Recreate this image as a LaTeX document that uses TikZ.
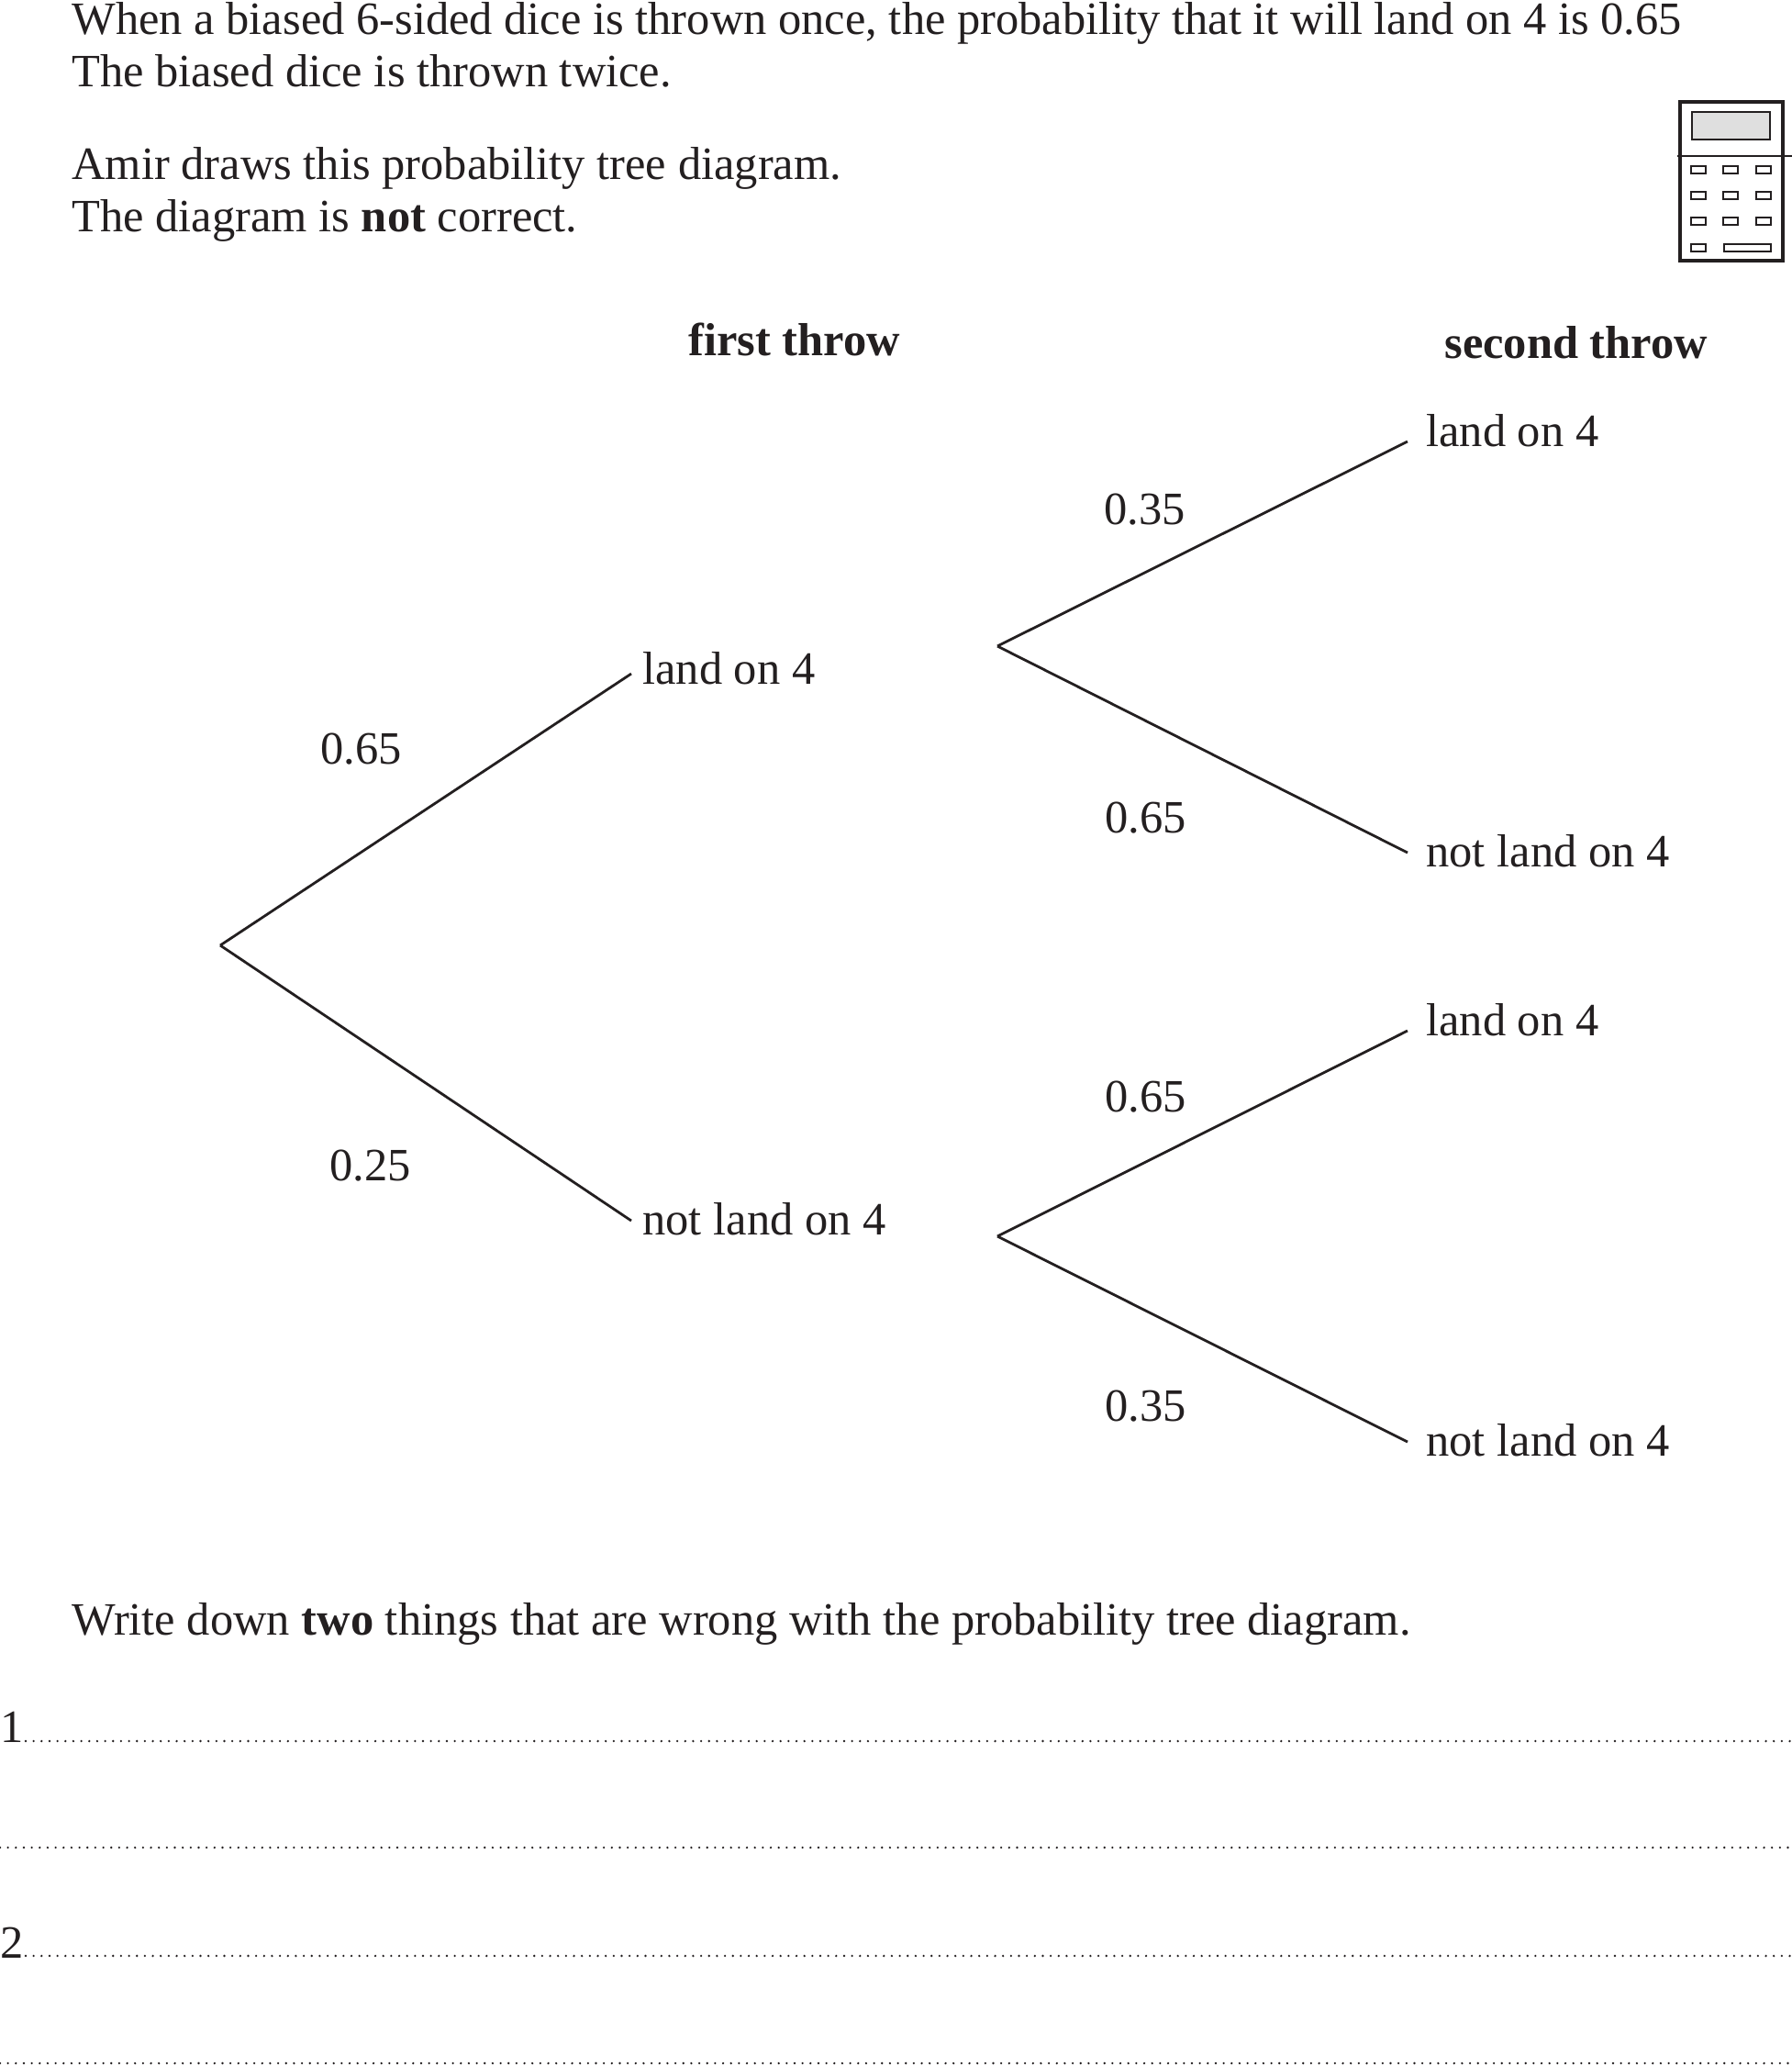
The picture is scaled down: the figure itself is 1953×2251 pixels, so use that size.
\documentclass[tikz,border=0pt]{standalone}
\usepackage{fontspec}
\setmainfont{Liberation Serif}
\definecolor{inkblack}{HTML}{231F20}
\tikzset{
    textline/.style={anchor=base west, inner sep=0pt, text=inkblack, font=\fontsize{25.25}{30}\selectfont},
    branch/.style={draw=inkblack, line width=1.4pt},
    answerline/.style={draw=inkblack, line width=1.3pt, line cap=round, dash pattern=on 0pt off 4.33pt},
    calcline/.style={draw=inkblack, line width=1pt}
}
\begin{document}
\begin{tikzpicture}[x=0.5pt, y=-0.5pt]
    \useasboundingbox (0,0) rectangle (1953,2251);
    \node[textline] (intro1) at (78,37.5) {When a biased 6-sided dice is thrown once, the probability that it will land on 4 is 0.65};
    \node[textline] (intro2) at (78,94.5) {The biased dice is thrown twice.};
    \node[textline] (intro3) at (78,195.5) {Amir draws this probability tree diagram.};
    \node[textline] (intro4) at (78,252.5) {The diagram is \textbf{not} correct.};
    \node[textline] (first) at (750,387.5) {\textbf{first throw}};
    \node[textline] (second) at (1574,390.5) {\textbf{second throw}};

    \coordinate (root) at (240,1030);
    \coordinate (forkA) at (1087,704);
    \coordinate (forkB) at (1087,1347);
    \node[textline] (A) at (700,745) {land on 4};
    \node[textline] (B) at (700,1345) {not land on 4};
    \node[textline] (AA) at (1554,486.5) {land on 4};
    \node[textline] (AB) at (1554,944.5) {not land on 4};
    \node[textline] (BA) at (1554,1128.5) {land on 4};
    \node[textline] (BB) at (1554,1586.5) {not land on 4};
    \draw[branch] (root) -- ([xshift=-6pt, yshift=-3.15pt]A.west);
    \draw[branch] (root) -- ([xshift=-6pt, yshift=-1.15pt]B.west);
    \draw[branch] (forkA) -- ([xshift=-10pt, yshift=-5.9pt]AA.west);
    \draw[branch] (forkA) -- ([xshift=-10pt, yshift=-0.9pt]AB.west);
    \draw[branch] (forkB) -- ([xshift=-10pt, yshift=-5.9pt]BA.west);
    \draw[branch] (forkB) -- ([xshift=-10pt, yshift=-0.9pt]BB.west);

    \node[textline] (pA) at (349,832.5) {0.65};
    \node[textline] (pB) at (359,1286.5) {0.25};
    \node[textline] (pAA) at (1203,571.5) {0.35};
    \node[textline] (pAB) at (1204,907.5) {0.65};
    \node[textline] (pBA) at (1204,1211.5) {0.65};
    \node[textline] (pBB) at (1204,1548.5) {0.35};

    \node[textline] (task) at (78,1781.5) {Write down \textbf{two} things that are wrong with the probability tree diagram.};
    \node[textline] (one) at (0,1898) {1};
    \node[textline] (two) at (0,2133) {2};
    \draw[answerline] (28,1897) -- (1953,1897);
    \draw[answerline] (0,2013) -- (1953,2013);
    \draw[answerline] (28,2131) -- (1953,2131);
    \draw[answerline] (0,2248) -- (1953,2248);

    % calculator
    \draw[inkblack, line width=1.7pt] (1831,111) rectangle (1943,284);
    \draw[calcline, fill=gray!25] (1844,122) rectangle (1929,152);
    \draw[calcline] (1828,170) -- (1953,170);
    \foreach \y in {181,209,237} {
        \foreach \x in {1843,1878,1914} {
            \draw[calcline] (\x,\y) rectangle (\x+16,\y+8);
        }
    }
    \draw[calcline] (1843,266) rectangle (1859,274);
    \draw[calcline] (1879,266) rectangle (1930,274);
\end{tikzpicture}
\end{document}
